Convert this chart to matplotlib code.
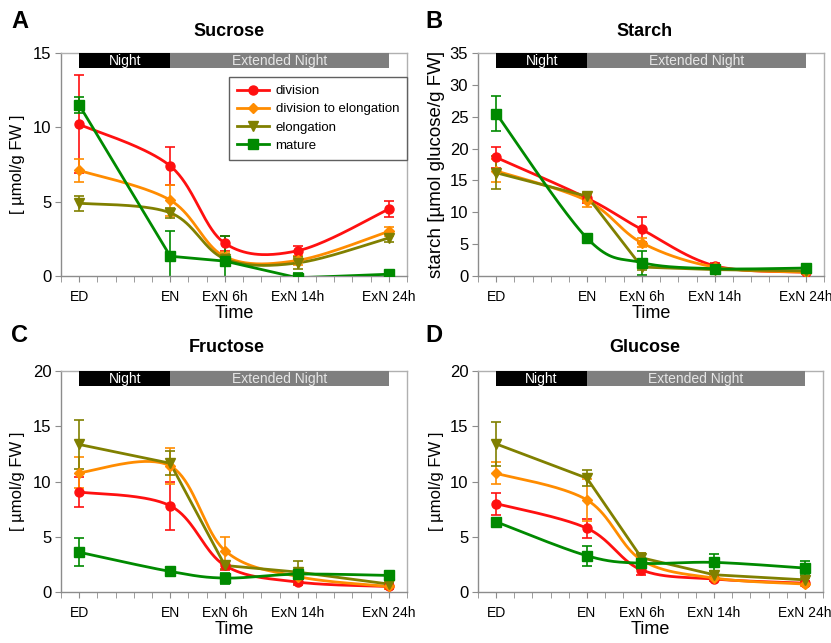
import numpy as np
import matplotlib
matplotlib.use("Agg")
import matplotlib.pyplot as plt

plt.rcParams['font.family'] = ['Liberation Sans', 'DejaVu Sans']

# ---------------- data ----------------
time_labels = ["ED", "EN", "ExN 6h", "ExN 14h", "ExN 24h"]
time_hours = [0, 10, 16, 24, 34]
series_names = ["division", "division to elongation", "elongation", "mature"]

sucrose_mean = {
    "division": [10.2, 7.4, 2.2, 1.7, 4.5],
    "division to elongation": [7.1, 5.1, 1.3, 1.05, 3.0],
    "elongation": [4.9, 4.25, 1.15, 0.88, 2.56],
    "mature": [11.5, 1.33, 1.0, -0.12, 0.12],
}
sucrose_err = {
    "division": [3.3, 1.3, 0.5, 0.35, 0.55],
    "division to elongation": [0.75, 1.05, 0.3, 0.3, 0.3],
    "elongation": [0.5, 0.35, 0.3, 0.4, 0.25],
    "mature": [0.55, 1.7, 1.7, 0.3, 0.2],
}
starch_mean = {
    "division": [18.6, 12.2, 7.3, 1.6, 0.6],
    "division to elongation": [16.5, 11.8, 5.2, 1.4, 0.6],
    "elongation": [16.2, 12.5, 1.4, 1.0, 0.8],
    "mature": [25.5, 5.9, 2.1, 1.15, 1.25],
}
starch_err = {
    "division": [1.7, 0.8, 2.0, 0.4, 0.3],
    "division to elongation": [1.8, 1.0, 0.7, 0.3, 0.3],
    "elongation": [2.6, 0.5, 0.4, 0.3, 0.3],
    "mature": [2.7, 0.6, 1.9, 0.3, 0.3],
}
fructose_mean = {
    "division": [9.05, 7.8, 2.4, 0.9, 0.5],
    "division to elongation": [10.8, 11.4, 3.75, 1.4, 0.5],
    "elongation": [13.35, 11.65, 2.4, 1.8, 0.72],
    "mature": [3.6, 1.86, 1.26, 1.62, 1.5],
}
fructose_err = {
    "division": [1.4, 2.2, 0.4, 0.3, 0.2],
    "division to elongation": [1.4, 1.6, 1.2, 0.4, 0.2],
    "elongation": [2.2, 1.1, 0.3, 1.05, 0.2],
    "mature": [1.25, 0.25, 0.5, 0.3, 0.2],
}
glucose_mean = {
    "division": [8.0, 5.77, 2.0, 1.17, 0.8],
    "division to elongation": [10.74, 8.33, 2.9, 1.26, 0.72],
    "elongation": [13.4, 10.3, 3.1, 1.56, 1.1],
    "mature": [6.35, 3.28, 2.6, 2.68, 2.17],
}
glucose_err = {
    "division": [1.0, 0.85, 0.5, 0.2, 0.2],
    "division to elongation": [1.0, 1.9, 0.6, 0.2, 0.2],
    "elongation": [2.0, 0.7, 0.4, 0.3, 0.2],
    "mature": [0.2, 0.9, 0.5, 0.8, 0.6],
}

colors = {"division": "#ff1010", "division to elongation": "#ff8c00",
          "elongation": "#808000", "mature": "#008a00"}
markers = {"division": "o", "division to elongation": "D",
           "elongation": "v", "mature": "s"}
msizes = {"division": 6.5, "division to elongation": 5.5,
          "elongation": 7, "mature": 6.5}


def smooth(x, y, n=40):
    pts = np.column_stack([x, y]).astype(float)
    P = np.vstack([pts[0], pts, pts[-1]])
    out = []
    t = np.linspace(0, 1, n)[:, None]
    for i in range(len(pts) - 1):
        p0, p1, p2, p3 = P[i], P[i + 1], P[i + 2], P[i + 3]
        c1 = p1 + (p2 - p0) / 6.0
        c2 = p2 - (p3 - p1) / 6.0
        seg = ((1 - t) ** 3) * p1 + 3 * ((1 - t) ** 2) * t * c1 + 3 * (1 - t) * t ** 2 * c2 + t ** 3 * p2
        out.append(seg)
    arr = np.vstack(out)
    return arr[:, 0], arr[:, 1]


W, H = 831, 643
fig = plt.figure(figsize=(W / 100, H / 100), dpi=100)


def fx(px):
    return px / W


def fy(py):
    return 1 - py / H


panels = [
    dict(letter="A", title="Sucrose", mean=sucrose_mean, err=sucrose_err, ymax=15,
         ylabel="[ µmol/g FW ]", ylab_fs=12, rect=(61, 53, 407, 276),
         straight={"mature"}, legend=True, letter_xy=(20, 21), title_xy=(229, 31),
         ylab_x=18),
    dict(letter="B", title="Starch", mean=starch_mean, err=starch_err, ymax=35,
         ylabel="starch [µmol glucose/g FW]", ylab_fs=13.5, rect=(478, 53, 824, 276),
         straight={"elongation"}, legend=False, letter_xy=(434, 21),
         title_xy=(645, 31), ylab_x=437),
    dict(letter="C", title="Fructose", mean=fructose_mean, err=fructose_err, ymax=20,
         ylabel="[ µmol/g FW ]", ylab_fs=12, rect=(61, 371, 407, 592),
         straight={"elongation"}, legend=False, letter_xy=(20, 335),
         title_xy=(227, 348), ylab_x=18),
    dict(letter="D", title="Glucose", mean=glucose_mean, err=glucose_err, ymax=20,
         ylabel="[ µmol/g FW ]", ylab_fs=12, rect=(478, 371, 823, 592),
         straight={"elongation"}, legend=False, letter_xy=(434, 335),
         title_xy=(645, 348), ylab_x=437),
]

spine_col = "#8c8c8c"

for p in panels:
    l, t, r, b = p["rect"]
    ax = fig.add_axes([fx(l), fy(b), (r - l) / W, (b - t) / H])
    ax.set_xlim(-2, 36)
    ax.set_ylim(0, p["ymax"])
    handles = []
    for name in series_names:
        y = p["mean"][name]
        e = p["err"][name]
        c = colors[name]
        ax.errorbar(time_hours, y, yerr=e, fmt="none", ecolor=c, elinewidth=1.2,
                    capsize=3.5, capthick=1.2, zorder=2, clip_on=True)
        if name in p["straight"]:
            sx, sy = np.array(time_hours, float), np.array(y, float)
        else:
            sx, sy = smooth(time_hours, y)
        ax.plot(sx, sy, color=c, lw=2.0, zorder=3, solid_capstyle="round")
        ax.plot(time_hours, y, linestyle="none", marker=markers[name],
                ms=msizes[name], color=c, zorder=4)
        h, = ax.plot([], [], color=c, lw=2.0, marker=markers[name], ms=msizes[name])
        handles.append(h)

    # Night / Extended night bar
    ax.axvspan(time_hours[0], time_hours[1], ymin=0.932, ymax=1.0, color="black",
               zorder=5, lw=0)
    ax.axvspan(time_hours[1], time_hours[-1], ymin=0.932, ymax=1.0, color="#7f7f7f",
               zorder=5, lw=0)
    trans = ax.get_xaxis_transform()
    ax.text((time_hours[0] + time_hours[1]) / 2, 0.966, "Night", transform=trans,
            ha="center", va="center", color="white", fontsize=10, zorder=6)
    ax.text((time_hours[1] + time_hours[-1]) / 2, 0.966, "Extended Night",
            transform=trans, ha="center", va="center", color="#e6e6e6",
            fontsize=10, zorder=6)

    ax.set_xticks(time_hours)
    ax.set_xticklabels(time_labels, fontsize=10)
    ax.set_xticks(np.arange(-2, 37, 2), minor=True)
    ax.tick_params(axis="x", which="both", direction="out", length=4,
                   color=spine_col, pad=6)
    ax.set_yticks(np.arange(0, p["ymax"] + 1, 5))
    ax.tick_params(axis="y", direction="out", length=4, color=spine_col,
                   labelsize=12, pad=3)
    for s in ax.spines.values():
        s.set_color(spine_col)
        s.set_linewidth(1.0)
    ax.spines["top"].set_color("#b0b0b0")
    ax.spines["right"].set_color("#b0b0b0")

    ax.set_xlabel("Time", fontsize=13, labelpad=1)

    fig.text(fx(p["ylab_x"]), fy((t + b) / 2), p["ylabel"], rotation=90,
             ha="center", va="center", fontsize=p["ylab_fs"])
    fig.text(fx(p["letter_xy"][0]), fy(p["letter_xy"][1]), p["letter"],
             ha="center", va="center", fontsize=17, fontweight="bold")
    fig.text(fx(p["title_xy"][0]), fy(p["title_xy"][1]), p["title"],
             ha="center", va="center", fontsize=13, fontweight="bold")

    if p["legend"]:
        leg = ax.legend(handles, series_names, loc="upper right",
                        bbox_to_anchor=(1.0, 0.892), borderaxespad=0,
                        fontsize=9.5, frameon=True, fancybox=False,
                        edgecolor="#606060", framealpha=1, handlelength=2.4,
                        handletextpad=0.5, labelspacing=0.45, borderpad=0.6)
        leg.get_frame().set_linewidth(1.0)
        leg.set_zorder(7)

fig.savefig("out.png", dpi=100)
